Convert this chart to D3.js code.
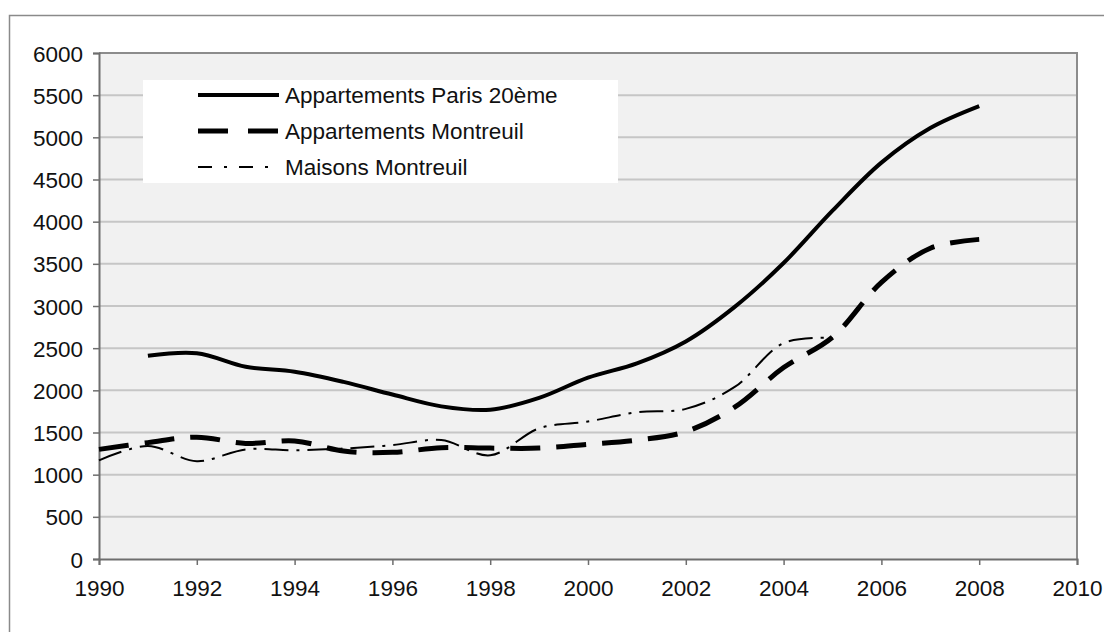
<!DOCTYPE html>
<html>
<head>
<meta charset="utf-8">
<script src="https://cdn.jsdelivr.net/npm/d3@7"></script>
<style>
  html, body { margin: 0; padding: 0; background: #fff; }
  svg { display: block; }
  text { font-family: "Liberation Sans", Arial, sans-serif; fill: #111; }
</style>
</head>
<body>
<svg id="chart" width="1104" height="632"></svg>
<script>
// Prix au m² (euros) par année
const years = [1990, 1991, 1992, 1993, 1994, 1995, 1996, 1997, 1998, 1999,
               2000, 2001, 2002, 2003, 2004, 2005, 2006, 2007, 2008];

const paris20 = [null, 2410, 2440, 2280, 2220, 2100, 1950, 1810, 1770, 1910,
                 2150, 2320, 2580, 2990, 3510, 4130, 4700, 5110, 5370];

const apptMontreuil = [1300, 1380, 1445, 1370, 1400, 1280, 1265, 1320, 1315, 1315,
                       1360, 1410, 1510, 1800, 2270, 2630, 3280, 3685, 3790];

const maisonsMontreuil = [1170, 1340, 1160, 1300, 1290, 1310, 1350, 1410, 1230, 1550,
                          1630, 1740, 1780, 2040, 2560, 2620, null, null, null];

const yTicks = [0, 500, 1000, 1500, 2000, 2500, 3000, 3500, 4000, 4500, 5000, 5500, 6000];
const xTicks = [1990, 1992, 1994, 1996, 1998, 2000, 2002, 2004, 2006, 2008, 2010];

const seriesNames = ["Appartements Paris 20ème", "Appartements Montreuil", "Maisons Montreuil"];

const svg = d3.select("#chart");
const FONT = 22.5;

// outer chart frame
svg.append("rect")
  .attr("x", 9.5).attr("y", 15.5)
  .attr("width", 1200).attr("height", 700)
  .attr("fill", "#fff").attr("stroke", "#8a8a8a").attr("stroke-width", 1.5);

const plot = { left: 99, right: 1077, top: 53, bottom: 559 };

const x = d3.scaleLinear().domain([1990, 2010]).range([plot.left, plot.right]);
const y = d3.scaleLinear().domain([0, 6000]).range([plot.bottom, plot.top]);

// plot area background
svg.append("rect")
  .attr("x", plot.left).attr("y", plot.top)
  .attr("width", plot.right - plot.left).attr("height", plot.bottom - plot.top)
  .attr("fill", "#f1f1f1");

// horizontal gridlines
svg.append("g")
  .selectAll("line")
  .data(yTicks.filter(d => d > 0 && d < 6000))
  .join("line")
  .attr("x1", plot.left).attr("x2", plot.right)
  .attr("y1", d => y(d)).attr("y2", d => y(d))
  .attr("stroke", "#c6c6c6").attr("stroke-width", 2);

// plot border (top and right)
svg.append("path")
  .attr("d", `M${plot.left},${plot.top}H${plot.right}V${plot.bottom}`)
  .attr("fill", "none").attr("stroke", "#8c8c8c").attr("stroke-width", 2);

// y axis
const yAxis = svg.append("g")
  .attr("transform", `translate(${plot.left},0)`)
  .call(d3.axisLeft(y).tickValues(yTicks).tickSize(6).tickPadding(10).tickFormat(d3.format("d")));
yAxis.select(".domain").attr("stroke", "#6e6e6e").attr("stroke-width", 2);
yAxis.selectAll(".tick line").attr("stroke", "#6e6e6e").attr("stroke-width", 1.5);
yAxis.selectAll(".tick text")
  .attr("font-size", FONT).attr("font-family", "Liberation Sans, Arial, sans-serif")
  .attr("fill", "#111").attr("dy", "0.36em");

// x axis
const xAxis = svg.append("g")
  .attr("transform", `translate(0,${plot.bottom})`)
  .call(d3.axisBottom(x).tickValues(xTicks).tickSize(6).tickPadding(15).tickFormat(d3.format("d")));
xAxis.select(".domain").attr("stroke", "#6e6e6e").attr("stroke-width", 2);
xAxis.selectAll(".tick line").attr("stroke", "#6e6e6e").attr("stroke-width", 1.5);
xAxis.selectAll(".tick text")
  .attr("font-size", FONT).attr("font-family", "Liberation Sans, Arial, sans-serif")
  .attr("fill", "#111");

// series lines
const styles = [
  { values: paris20, width: 4, dash: null },
  { values: apptMontreuil, width: 5, dash: "30,16" },
  { values: maisonsMontreuil, width: 2, dash: "24,8,3,8" }
];

const line = d3.line()
  .defined(d => d.v !== null)
  .x(d => x(d.year))
  .y(d => y(d.v))
  .curve(d3.curveCatmullRom.alpha(0.5));

styles.forEach(s => {
  const pts = years.map((yr, i) => ({ year: yr, v: s.values[i] })).filter(d => d.v !== null);
  svg.append("path")
    .datum(pts)
    .attr("d", line)
    .attr("fill", "none")
    .attr("stroke", "#000")
    .attr("stroke-width", s.width)
    .attr("stroke-dasharray", s.dash)
    .attr("stroke-linejoin", "round");
});

// legend
const legend = svg.append("g");
legend.append("rect")
  .attr("x", 143).attr("y", 80).attr("width", 475).attr("height", 103)
  .attr("fill", "#fff");

const legendStyles = [
  { width: 4, dash: null },
  { width: 5, dash: "30,20,30" },
  { width: 2, dash: "14,12,3,12,14,12,3,12,3" }
];
const rowY = [95, 131, 167];

seriesNames.forEach((name, i) => {
  legend.append("line")
    .attr("x1", 198).attr("x2", 279)
    .attr("y1", rowY[i]).attr("y2", rowY[i])
    .attr("stroke", "#000")
    .attr("stroke-width", legendStyles[i].width)
    .attr("stroke-dasharray", legendStyles[i].dash);
  legend.append("text")
    .attr("x", 285).attr("y", rowY[i])
    .attr("dy", "0.36em")
    .attr("font-size", FONT)
    .text(name);
});
</script>
</body>
</html>
